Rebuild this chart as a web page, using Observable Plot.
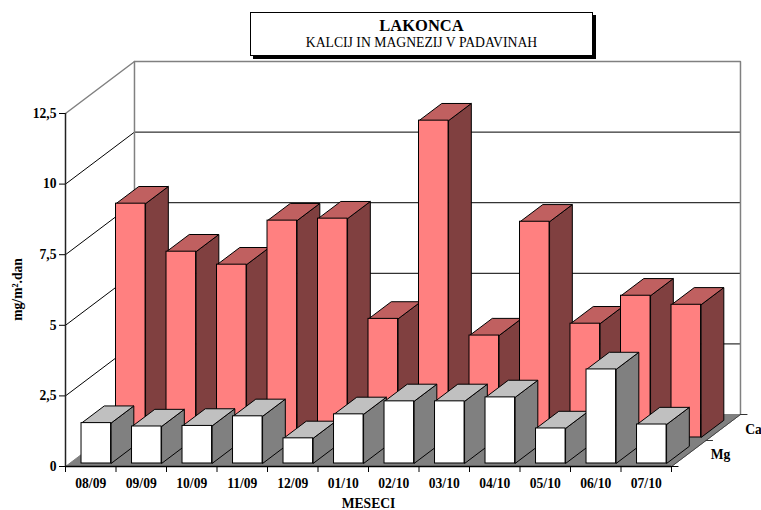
<!DOCTYPE html>
<html><head><meta charset="utf-8">
<script src="https://cdn.jsdelivr.net/npm/d3@7"></script>
<script src="https://cdn.jsdelivr.net/npm/@observablehq/plot@0.6"></script>
<style>
html,body{margin:0;padding:0;background:#fff}
#wrap{position:relative;width:761px;height:510px;overflow:hidden}
#title{position:absolute;left:250px;top:12px;width:341px;height:42px;background:#fff;border:1px solid #000;box-shadow:3px 3px 0 #000;text-align:center;font-family:"Liberation Serif",serif;color:#000}
#title .a{font-size:16.5px;font-weight:bold;line-height:19px;margin-top:3px}
#title .b{font-size:13.7px;line-height:16px}
</style></head><body>
<div id="wrap"><div id="title"><div class="a">LAKONCA</div><div class="b">KALCIJ IN MAGNEZIJ V PADAVINAH</div></div></div>
<script>
const months = ["08/09","09/09","10/09","11/09","12/09","01/10","02/10","03/10","04/10","05/10","06/10","07/10"];
const ca = [8.28,6.58,6.12,7.68,7.75,4.2,11.22,3.61,7.64,4.03,5.02,4.7];
const mg = [1.43,1.31,1.33,1.67,0.89,1.74,2.2,2.2,2.34,1.24,3.33,1.38];
const yTicks = [0,2.5,5,7.5,10,12.5];
const seriesNames = ["Mg","Ca"];

// oblique projection in data units: full depth of the floor
const kx = 1.366, ky = 1.841;
const P = (x,v,d)=>({x:x+d*kx, y:v+d*ky});
const barF = 0.238, barW = 0.585, barD = 0.33;
const poly = (pts,fill,stroke="#000",sw=1)=>Plot.line(pts,{x:"x",y:"y",fill,stroke,strokeWidth:sw,strokeLinejoin:"miter"});

function bars(values,d,front,top,side){
  return values.flatMap((v,i)=>{
    const x0=i+barF,x1=x0+barW,d1=d+barD;
    const fa=P(x0,v,d),fb=P(x1,v,d),fc=P(x1,0,d);
    return [
      poly([fb,P(x1,v,d1),P(x1,0,d1),fc,fb],side),
      poly([fa,P(x0,v,d1),P(x1,v,d1),fb,fa],top),
      Plot.rect([{}],{x1:fa.x,x2:fb.x,y1:fc.y,y2:fb.y,fill:front,stroke:"#000",strokeWidth:1,inset:0})
    ];
  });
}
const gray="#808080";
const plot = Plot.plot({
  width:761,height:510,
  marginLeft:65,marginRight:90,marginTop:113,marginBottom:44,
  x:{domain:[0,12]},
  y:{domain:[0,12.5]},
  style:{fontFamily:"'Liberation Serif',serif",fontSize:"13.6px",fontWeight:"bold",color:"#000",background:"transparent",overflow:"visible"},
  marks:[
    // walls
    ...yTicks.filter(v=>v>0&&v<12.5).map(v=>poly([P(0,v,0),P(0,v,1),P(12,v,1)],"none")),
    poly([P(0,12.5,0),P(0,12.5,1),P(12,12.5,1),P(12,0,1)],"none",gray,1.5),
    poly([P(0,12.5,1),P(0,0,1)],"none",gray,1.5),
    // floor
    poly([P(0,0,0),P(12,0,0),P(12,0,1),P(0,0,1),P(0,0,0)],gray,gray),
    poly([P(12,0,0),P(12,0,1)],"none","#444"),
    // depth ticks
    ...[0,0.5,1].map(d=>poly([P(12,0,d),P(12.13,0,d)],"none",d==0?"#000":"#333")),
    Plot.text([seriesNames[0]],{x:P(12,0,0.25).x,y:P(12,0,0.25).y,text:d=>d,textAnchor:"start",dx:22,dy:1}),
    Plot.text([seriesNames[1]],{x:P(12,0,0.75).x,y:P(12,0,0.75).y,text:d=>d,textAnchor:"start",dx:22,dy:2}),
    // bars
    ...bars(ca,0.558,"#FF8080","#C06060","#804040"),
    ...bars(mg,0.058,"#FFFFFF","#C0C0C0","#808080"),
    // axes
    Plot.ruleY([0],{stroke:"#000",strokeWidth:1.5}),
    Plot.ruleX([0],{y1:0,y2:12.5,stroke:"#222",strokeWidth:1.5}),
    Plot.axisY({ticks:yTicks,tickFormat:d=>String(d).replace(".",","),tickSize:6,tickPadding:3,label:null,stroke:"#000"}),
    Plot.axisX({ticks:d3.range(13),tickFormat:()=>"",tickSize:6,label:null}),
    Plot.axisX({ticks:months.map((m,i)=>i+0.5),tickFormat:d=>months[d-0.5],tickSize:0,tickPadding:12,label:null}),
    Plot.text(["MESECI"],{x:6,y:0,text:d=>d,dy:37}),
    Plot.text(["mg/m².dan"],{x:0,y:6.27,text:d=>d,rotate:-90,dx:-48})
  ]
});
document.getElementById("wrap").prepend(plot);
</script>
</body></html>
